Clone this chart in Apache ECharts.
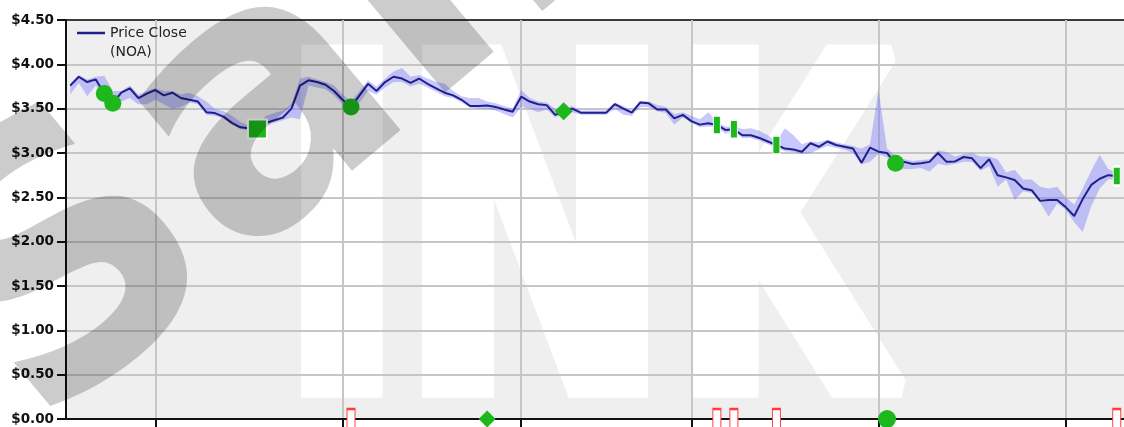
<!DOCTYPE html>
<html>
<head>
<meta charset="utf-8">
<script src="https://cdn.jsdelivr.net/npm/echarts@6/dist/echarts.min.js"></script>
<style>
  html, body { margin: 0; padding: 0; background: #ffffff; }
  #chart { width: 1124px; height: 427px; }
</style>
</head>
<body>
<div id="chart"></div>
<script>
// Trading sessions, grouped by month (NOA daily closes)
const sessionDays = [
  ['2015-02', [13, 17, 18, 19, 20, 23, 24, 25, 26, 27]],
  ['2015-03', [2, 3, 4, 5, 6, 9, 10, 11, 12, 13, 16, 17, 18, 19, 20, 23, 24, 25, 26, 27, 30, 31]],
  ['2015-04', [1, 2, 6, 7, 8, 9, 10, 13, 14, 15, 16, 17, 20, 21, 22, 23, 24, 27, 28, 29, 30]],
  ['2015-05', [1, 4, 5, 6, 7, 8, 11, 12, 13, 14, 15, 18, 19, 20, 21, 22, 26, 27, 28, 29]],
  ['2015-06', [1, 2, 3, 4, 5, 8, 9, 10, 11, 12, 15, 16, 17, 18, 19, 22, 23, 24, 25, 26, 29, 30]],
  ['2015-07', [1, 2, 6, 7, 8, 9, 10, 13, 14, 15, 16, 17, 20, 21, 22, 23, 24, 27, 28, 29, 30, 31]],
  ['2015-08', [3, 4, 5, 6, 7, 10, 11]]
];

const closePrice = [
  3.76, 3.86, 3.80, 3.83, 3.67, 3.56, 3.68, 3.73, 3.62, 3.67,
  3.71, 3.65, 3.68, 3.62, 3.60, 3.58, 3.46, 3.45, 3.41, 3.34,
  3.29, 3.28, 3.27, 3.34, 3.37, 3.40, 3.50, 3.76, 3.82, 3.80,
  3.77, 3.70, 3.60, 3.52, 3.65, 3.78, 3.70, 3.80, 3.86, 3.84,
  3.79, 3.84, 3.78, 3.73, 3.68, 3.65, 3.60, 3.53, 3.53, 3.535,
  3.52, 3.49, 3.465, 3.635, 3.58, 3.55, 3.54, 3.43, 3.47, 3.50,
  3.455, 3.455, 3.455, 3.455, 3.55, 3.50, 3.455, 3.57, 3.56, 3.49,
  3.49, 3.39, 3.43, 3.36, 3.32, 3.335, 3.316, 3.26, 3.267, 3.20,
  3.20, 3.17, 3.13, 3.09, 3.05, 3.04, 3.015, 3.11, 3.07, 3.13,
  3.09, 3.07, 3.05, 2.89, 3.06, 3.015, 3.00, 2.884, 2.90, 2.875,
  2.885, 2.90, 3.00, 2.90, 2.905, 2.955, 2.94, 2.83, 2.93, 2.75,
  2.725, 2.695, 2.60, 2.58, 2.46, 2.47, 2.47, 2.39, 2.29, 2.48,
  2.64, 2.71, 2.75, 2.74
];

const lowPrice = [
  3.66, 3.79, 3.64, 3.76, 3.63, 3.52, 3.58, 3.62, 3.55, 3.55,
  3.60, 3.55, 3.50, 3.52, 3.57, 3.55, 3.43, 3.42, 3.39, 3.32,
  3.27, 3.25, 3.24, 3.31, 3.34, 3.37, 3.40, 3.38, 3.76, 3.74,
  3.72, 3.65, 3.55, 3.48, 3.57, 3.70, 3.66, 3.74, 3.80, 3.80,
  3.75, 3.78, 3.74, 3.69, 3.64, 3.62, 3.57, 3.51, 3.50, 3.50,
  3.48, 3.44, 3.40, 3.52, 3.50, 3.46, 3.49, 3.40, 3.44, 3.46,
  3.43, 3.43, 3.43, 3.43, 3.50, 3.43, 3.42, 3.52, 3.52, 3.47,
  3.45, 3.32, 3.40, 3.34, 3.29, 3.30, 3.29, 3.22, 3.24, 3.17,
  3.17, 3.14, 3.10, 3.06, 3.02, 3.01, 2.99, 3.00, 3.04, 3.08,
  3.06, 3.04, 3.00, 2.87, 2.90, 2.99, 2.95, 2.84, 2.82, 2.82,
  2.83, 2.79, 2.88, 2.86, 2.88, 2.90, 2.90, 2.80, 2.85, 2.62,
  2.70, 2.47, 2.57, 2.55, 2.44, 2.28, 2.43, 2.36, 2.22, 2.11,
  2.40, 2.60, 2.70, 2.70
];

const highPrice = [
  3.78, 3.88, 3.83, 3.86, 3.87, 3.70, 3.70, 3.76, 3.66, 3.70,
  3.73, 3.70, 3.70, 3.66, 3.68, 3.64, 3.58, 3.50, 3.47, 3.42,
  3.35, 3.31, 3.30, 3.42, 3.45, 3.48, 3.55, 3.84, 3.86, 3.83,
  3.80, 3.76, 3.66, 3.58, 3.70, 3.82, 3.75, 3.84, 3.92, 3.96,
  3.86, 3.88, 3.84, 3.80, 3.78, 3.70, 3.64, 3.62, 3.62, 3.58,
  3.56, 3.53, 3.50, 3.71, 3.62, 3.58, 3.57, 3.50, 3.50, 3.53,
  3.48, 3.48, 3.48, 3.48, 3.57, 3.53, 3.48, 3.59, 3.58, 3.54,
  3.52, 3.44, 3.46, 3.42, 3.38, 3.46, 3.35, 3.30, 3.30, 3.27,
  3.28, 3.25, 3.20, 3.13, 3.28, 3.20, 3.10, 3.13, 3.12, 3.15,
  3.12, 3.10, 3.08, 3.05, 3.10, 3.71, 3.05, 2.97, 2.93, 2.91,
  2.92, 2.93, 3.03, 3.01, 2.96, 2.99, 3.00, 2.96, 2.96, 2.93,
  2.78, 2.81, 2.70, 2.70, 2.62, 2.60, 2.62, 2.50, 2.42, 2.60,
  2.80, 2.98, 2.82, 2.78
];

// Signal markers, as session indices
const circleSignals = [4, 5, 33, 97];
const squareSignals = [22];
const diamondSignals = [58];
const barSignals = [76, 78, 83, 123];
// Event markers sitting on the zero line
const flagEvents = [33, 76, 78, 83, 123];
const baseDiamondEvents = [49];
const baseCircleEvents = [96];

const yTickValues = { min: 0, max: 4.5, step: 0.5 };

const dates = [];
const monthFirst = new Set();
sessionDays.forEach(([month, days], m) => {
  days.forEach((d, k) => {
    if (m > 0 && k === 0) monthFirst.add(dates.length);
    dates.push(month + '-' + String(d).padStart(2, '0'));
  });
});

const GREEN = '#1cb81c';
const atClose = idx => idx.map(i => [i, closePrice[i]]);
const atZero = idx => idx.map(i => [i, 0]);

const chart = echarts.init(document.getElementById('chart'), null, { renderer: 'canvas' });

const WHITE_FONT = 'bold 457px "DejaVu Sans"';

const option = {
  animation: false,
  backgroundColor: '#ffffff',
  grid: {
    left: 66, top: 20, width: 1063.5, bottom: 8,
    outerBoundsMode: 'none',
    containLabel: false,
    show: true, borderColor: '#3c3c3c', borderWidth: 2,
    backgroundColor: 'transparent'
  },
  legend: {
    show: true,
    left: 77, top: 4.5, padding: 0,
    selectedMode: false,
    data: [{ name: 'Price Close', icon: 'rect' }],
    itemWidth: 28, itemHeight: 2.5,
    formatter: () => '\nPrice Close\n(NOA)',
    textStyle: {
      fontFamily: 'DejaVu Sans', fontSize: 14, color: '#222', lineHeight: 19
    }
  },
  xAxis: {
    type: 'category',
    data: dates,
    max: dates.length,
    boundaryGap: true,
    axisLine: { show: true, onZero: false, lineStyle: { color: '#111', width: 2 } },
    axisTick: {
      show: true, alignWithLabel: true, length: 9,
      interval: i => monthFirst.has(i),
      lineStyle: { color: '#111', width: 2 }
    },
    axisLabel: { show: false },
    splitLine: {
      show: true, alignWithLabel: true,
      interval: i => monthFirst.has(i),
      lineStyle: { color: '#c6c6c6', width: 2 }
    }
  },
  yAxis: {
    type: 'value',
    min: yTickValues.min, max: yTickValues.max, interval: yTickValues.step,
    axisLine: { show: true, lineStyle: { color: '#111', width: 2 } },
    axisTick: { show: true, length: 9, lineStyle: { color: '#111', width: 2 } },
    axisLabel: {
      margin: 12, color: '#111',
      fontFamily: 'DejaVu Sans', fontSize: 13.5, fontWeight: 'bold',
      formatter: v => '$' + v.toFixed(2)
    },
    splitLine: { show: true, showMaxLine: false, showMinLine: false, lineStyle: { color: '#c6c6c6', width: 2 } }
  },
  series: [
    {
      name: 'low', type: 'line', data: lowPrice, stack: 'range',
      symbol: 'none', silent: true, lineStyle: { opacity: 0 }, z: 2
    },
    {
      name: 'range', type: 'line', stack: 'range',
      data: highPrice.map((h, i) => +(h - lowPrice[i]).toFixed(3)),
      symbol: 'none', silent: true, lineStyle: { opacity: 0 },
      areaStyle: { color: 'rgba(110,110,255,0.38)', opacity: 1 }, z: 2
    },
    {
      name: 'Price Close', type: 'line', data: closePrice,
      symbol: 'none', lineStyle: { color: '#20208c', width: 2 },
      itemStyle: { color: '#20208c' }, z: 3
    },
    {
      name: 'circles', type: 'scatter', data: atClose(circleSignals), clip: false,
      symbol: 'circle', symbolSize: 17, itemStyle: { color: GREEN, opacity: 1 }, z: 5
    },
    {
      name: 'squares', type: 'scatter', data: atClose(squareSignals), clip: false,
      symbol: 'rect', symbolSize: 19,
      itemStyle: { color: GREEN, borderColor: '#ffffff', borderWidth: 2, opacity: 1 }, z: 5
    },
    {
      name: 'diamonds', type: 'scatter', data: atClose(diamondSignals), clip: false,
      symbol: 'diamond', symbolSize: [18, 18], itemStyle: { color: GREEN, opacity: 1 }, z: 5
    },
    {
      name: 'bars', type: 'scatter', data: atClose(barSignals), clip: false,
      symbol: 'rect', symbolSize: [7, 19],
      itemStyle: { color: GREEN, borderColor: '#ffffff', borderWidth: 1.5, opacity: 1 }, z: 5
    },
    {
      name: 'flags', type: 'scatter', data: atZero(flagEvents), clip: false,
      symbol: 'rect', symbolSize: [8, 20],
      itemStyle: { color: '#ffffff', borderColor: '#ff3a3a', borderWidth: 1.5, opacity: 1 }, z: 6
    },
    {
      name: 'baseDiamonds', type: 'scatter', data: atZero(baseDiamondEvents), clip: false,
      symbol: 'diamond', symbolSize: [17, 17], itemStyle: { color: GREEN, opacity: 1 }, z: 6
    },
    {
      name: 'baseCircles', type: 'scatter', data: atZero(baseCircleEvents), clip: false,
      symbol: 'circle', symbolSize: 18, itemStyle: { color: GREEN, opacity: 1 }, z: 6
    }
  ],
  graphic: [
    {
      type: 'rect', z: -10, silent: true,
      shape: { x: 66, y: 20, width: 1075, height: 399 },
      style: { fill: '#efefef' }
    },
    {
      type: 'text', z: -5, silent: true, x: 342, y: 269, scaleX: 0.77,
      style: { text: 'I', fill: '#ffffff', stroke: '#ffffff', lineWidth: 20,
               font: WHITE_FONT, align: 'center', verticalAlign: 'middle' }
    },
    {
      type: 'text', z: -5, silent: true, x: 535, y: 269, scaleX: 0.71,
      style: { text: 'N', fill: '#ffffff', stroke: '#ffffff', lineWidth: 20,
               font: WHITE_FONT, align: 'center', verticalAlign: 'middle' }
    },
    {
      type: 'text', z: -5, silent: true, x: 783, y: 269, scaleX: 0.62,
      style: { text: 'K', fill: '#ffffff', stroke: '#ffffff', lineWidth: 20,
               font: WHITE_FONT, align: 'center', verticalAlign: 'middle' }
    },
    {
      type: 'text', z: 100, silent: true, x: 553, y: -120,
      rotation: 40 * Math.PI / 180,
      style: { text: 'Sample', fill: 'rgba(0,0,0,0.2)',
               font: 'bold 360px "DejaVu Sans"', align: 'center', verticalAlign: 'middle' }
    }
  ]
};

chart.setOption(option);
</script>
</body>
</html>
